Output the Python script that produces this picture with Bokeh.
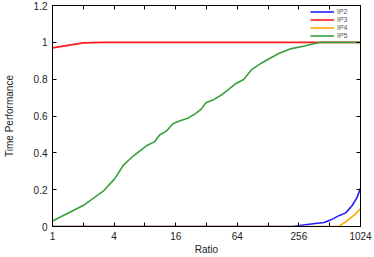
from bokeh.plotting import figure
from bokeh.models import (FixedTicker, LinearAxis, LogAxis, Legend, LegendItem, Range1d,
                          CustomJSTickFormatter)
from bokeh.embed import file_html
from bokeh.resources import INLINE

# performance profile data (ratio tau, fraction of problems)
ratio_ip2 = [1, 222.9, 270.6, 337.8, 451.9, 526.3, 630.3, 734.2, 849.3, 948.6, 1024]
perf_ip2 = [0, 0, 0.007, 0.014, 0.022, 0.036, 0.059, 0.074, 0.114, 0.158, 0.208]

ratio_ip3 = [1, 2.0, 3.0, 1024]
perf_ip3 = [0.97, 0.997, 1.0, 1.0]

ratio_ip4 = [1, 630, 760, 916, 1024]
perf_ip4 = [0, 0, 0.032, 0.069, 0.096]

ratio_ip5 = [1, 1.41, 2.04, 3.18, 4.06, 4.96, 6.19, 8.28, 9.99, 11.16, 13.0, 15.03,
             17.39, 20.97, 24.42, 28.25, 31.56, 36.5, 45.6, 54.9, 61.4, 74.0, 88.6,
             110.6, 139.1, 166.6, 216.7, 290, 377, 421.7, 1024]
perf_ip5 = [0.03, 0.072, 0.117, 0.195, 0.26, 0.335, 0.384, 0.438, 0.461, 0.497, 0.519,
            0.558, 0.573, 0.588, 0.609, 0.636, 0.672, 0.685, 0.717, 0.753, 0.775, 0.798,
            0.852, 0.888, 0.919, 0.942, 0.966, 0.980, 0.995, 1.0, 1.0]

x_major = [1, 4, 16, 64, 256, 1024]
x_minor = [2, 8, 32, 128, 512]
x_labels = ["1", "4", "16", "64", "256", "1024"]
y_ticks = [0, 0.2, 0.4, 0.6, 0.8, 1.0, 1.2]
y_labels = ["0", "0.2", "0.4", "0.6", "0.8", "1", "1.2"]

FONT = "Liberation Sans"
TXT = "#222222"

p = figure(width=374, height=257, x_axis_type="log",
           x_range=Range1d(1, 1024), y_range=Range1d(0, 1.2),
           output_backend="svg", toolbar_location=None,
           min_border_left=48, min_border_right=14, min_border_top=5, min_border_bottom=31)
p.grid.visible = False
p.outline_line_color = "black"
p.outline_line_width = 1
p.background_fill_color = "white"
p.border_fill_color = "white"

series = [
    ("IP2", ratio_ip2, perf_ip2, "#1f1fff"),
    ("IP3", ratio_ip3, perf_ip3, "#ff1a1a"),
    ("IP4", ratio_ip4, perf_ip4, "#ffa500"),
    ("IP5", ratio_ip5, perf_ip5, "#38a038"),
]
items = []
for name, xs, ys, col in series:
    r = p.line(xs, ys, line_color=col, line_width=1.6)
    items.append(LegendItem(label=name, renderers=[r]))

xa = p.xaxis[0]
xa.ticker = FixedTicker(ticks=x_major, minor_ticks=x_minor)
xa.major_label_overrides = {t: l for t, l in zip(x_major, x_labels)}
xa.axis_label = "Ratio"
yl = p.yaxis[0]
yl.ticker = FixedTicker(ticks=y_ticks)
yl.major_label_overrides = {t: l for t, l in zip(y_ticks, y_labels)}
yl.axis_label = "Time Performance"

for ax in (xa, yl):
    ax.major_tick_in = 4
    ax.major_tick_out = 0
    ax.minor_tick_in = 4
    ax.minor_tick_out = 0
    ax.major_tick_line_color = "black"
    ax.minor_tick_line_color = "black"
    ax.axis_line_color = "black"
    ax.major_label_text_font = FONT
    ax.major_label_text_font_size = "10px"
    ax.major_label_text_color = TXT
    ax.axis_label_text_font = FONT
    ax.axis_label_text_font_size = "10px"
    ax.axis_label_text_font_style = "normal"
    ax.axis_label_text_color = TXT
xa.major_label_standoff = 5
xa.axis_label_standoff = 1
yl.major_label_standoff = 5
yl.axis_label_standoff = 16

# mirrored ticks on top and right (no labels)
top = LogAxis(ticker=FixedTicker(ticks=x_major, minor_ticks=x_minor))
right = LinearAxis(ticker=FixedTicker(ticks=y_ticks))
for ax in (top, right):
    ax.formatter = CustomJSTickFormatter(code="return ''")
    ax.major_tick_in = 4
    ax.major_tick_out = 0
    ax.minor_tick_in = 4
    ax.minor_tick_out = 0
    ax.major_label_standoff = 0
    ax.axis_label = None
    ax.axis_line_color = "black"
p.add_layout(top, "above")
p.add_layout(right, "right")

legend = Legend(items=items, location="top_right")
legend.label_text_font = FONT
legend.label_text_font_size = "7px"
legend.label_text_color = "#555555"
legend.label_height = 7
legend.glyph_height = 7
legend.glyph_width = 24
legend.spacing = 1
legend.padding = 2
legend.margin = 1
legend.label_standoff = 3
legend.background_fill_alpha = 0
legend.border_line_alpha = 0
p.add_layout(legend)

open("out.html", "w").write(file_html(p, INLINE))
